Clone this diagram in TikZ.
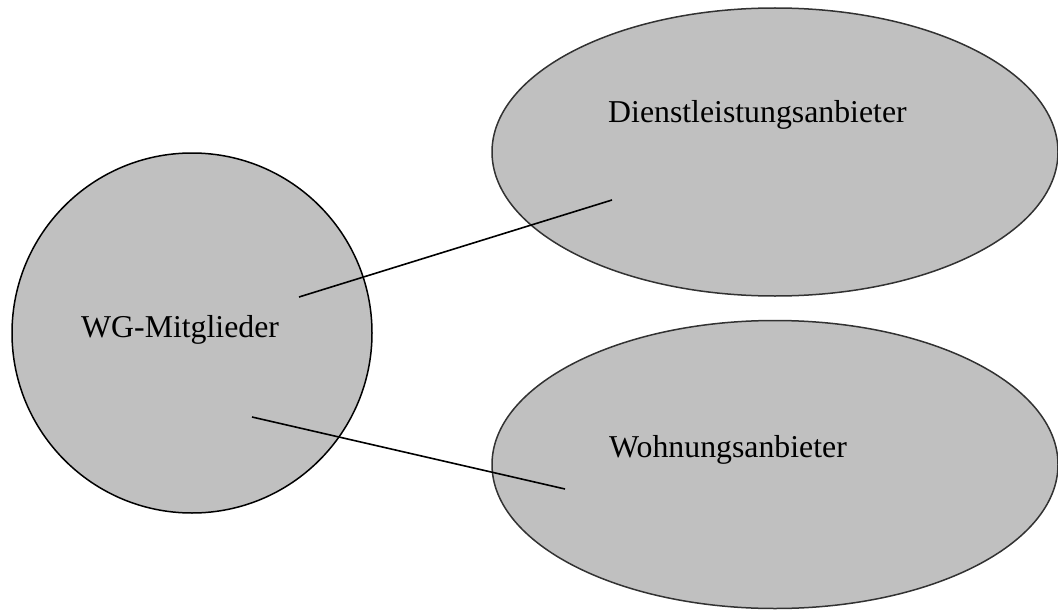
\documentclass[tikz,border=0pt]{standalone}
\usepackage{fontspec}
\setmainfont{Liberation Serif}
\usetikzlibrary{shapes.geometric}
\definecolor{fillgray}{RGB}{192,192,192}
\definecolor{edgegray}{RGB}{50,50,50}
\begin{document}
\begin{tikzpicture}[x=1pt,y=-1pt,
  blob/.style={draw=edgegray,fill=fillgray,line width=1.5pt,inner sep=0pt},
  roundblob/.style={blob,draw=black,circle,minimum size=360pt},
  ovalblob/.style={blob,ellipse,minimum width=566pt,minimum height=288pt},
  lbl/.style={anchor=base west,inner sep=0pt,font=\fontsize{31.8}{36}\selectfont},
  link/.style={draw=black,line width=1.6pt}]
\useasboundingbox (0,0) rectangle (1058,610);
\node[roundblob] (wg) at (192,333) {};
\node[ovalblob] (dienst) at (775,152) {};
\node[ovalblob] (wohn) at (775,464.5) {};
\node[lbl] (twg) at (81,337) {WG-Mitglieder};
\node[lbl] (tdienst) at (608,122) {Dienstleistungsanbieter};
\node[lbl] (twohn) at (609,457) {Wohnungsanbieter};
\coordinate (s1) at (299,297);
\coordinate (e1) at (612,200);
\coordinate (s2) at (252,417);
\coordinate (e2) at (565,489);
\draw[link] (s1) -- (e1);
\draw[link] (s2) -- (e2);
\end{tikzpicture}
\end{document}
